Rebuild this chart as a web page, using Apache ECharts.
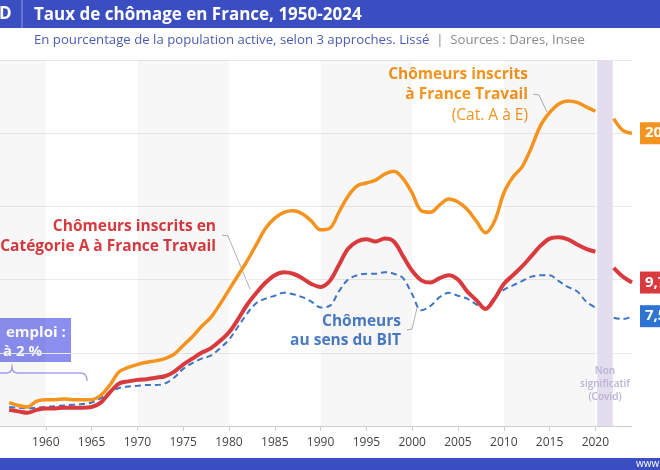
<!DOCTYPE html>
<html>
<head>
<meta charset="utf-8">
<script src="https://cdn.jsdelivr.net/npm/echarts@6.0.0/dist/echarts.min.js"></script>
<style>
  html, body { margin: 0; padding: 0; background: #fff; }
  #chart { width: 660px; height: 470px; }
</style>
</head>
<body>
<div id="chart"></div>
<script>
// années visibles (le début 1950-1955 est hors cadre)
const years = []
for (let y = 1956; y <= 2024; y++) years.push(y)
const tickYears = [1960, 1965, 1970, 1975, 1980, 1985, 1990, 1995, 2000, 2005, 2010, 2015, 2020]

// Chômeurs inscrits à France Travail, cat. A à E (%)
const catAE = [
  1.6, 1.4, 1.3, 1.7, 1.8, 1.8, 1.85, 1.8, 1.8, 1.8,
  2.1, 2.8, 3.7, 4.0, 4.2, 4.35, 4.45, 4.6, 4.9, 5.5,
  6.1, 6.8, 7.4, 8.3, 9.3, 10.3, 11.3, 12.4, 13.5, 14.2,
  14.6, 14.7, 14.5, 14.0, 13.4, 13.5, 14.6, 15.7, 16.4, 16.6,
  16.8, 17.2, 17.4, 16.9, 15.9, 14.7, 14.6, 15.1, 15.5, 15.3,
  14.8, 14.0, 13.2, 14.0, 15.9, 17.0, 17.7, 19.0, 20.5, 21.4,
  22.0, 22.2, 22.1, 21.8, 21.5, null, 21.0, 20.2, 20.0
]
// Chômeurs inscrits en catégorie A (%)
const catA = [
  1.1, 1.0, 0.9, 1.1, 1.2, 1.2, 1.25, 1.25, 1.25, 1.3,
  1.6, 2.3, 2.9, 3.05, 3.15, 3.2, 3.3, 3.4, 3.7, 4.2,
  4.6, 5.0, 5.3, 5.8, 6.4, 7.3, 8.3, 9.1, 9.8, 10.3,
  10.5, 10.4, 10.1, 9.7, 9.5, 9.9, 11.0, 12.1, 12.6, 12.75,
  12.6, 12.8, 12.6, 11.6, 10.6, 9.95, 9.8, 10.1, 10.3, 10.0,
  9.2, 8.6, 8.0, 8.7, 9.7, 10.3, 10.9, 11.6, 12.3, 12.8,
  12.9, 12.75, 12.4, 12.1, 11.9, null, 10.8, 10.2, 9.8
]
// Chômeurs au sens du BIT (%)
const bit = [
  1.3, 1.25, 1.2, 1.25, 1.3, 1.35, 1.4, 1.45, 1.5, 1.6,
  1.9, 2.3, 2.6, 2.7, 2.75, 2.8, 2.8, 2.9, 3.3, 3.9,
  4.3, 4.6, 4.8, 5.3, 5.9, 6.8, 7.7, 8.4, 8.7, 8.9,
  9.1, 9.0, 8.8, 8.5, 8.1, 8.2, 9.2, 10.0, 10.3, 10.4,
  10.4, 10.5, 10.4, 10.1, 9.0, 7.9, 8.2, 8.8, 9.1, 8.9,
  8.7, 8.3, 8.0, 8.8, 9.3, 9.6, 9.9, 10.2, 10.3, 10.3,
  9.9, 9.5, 9.2, 8.5, 8.1, null, 7.4, 7.3, 7.5
]
const endLabels = ['20,0', '9,7', '7,5']

const decadeBands = [[1950, 1960], [1970, 1980], [1990, 2000], [2010, 2020]]
const covidBand = [2020.2, 2021.9]

const ORANGE = '#f5931f'
const RED = '#d83a3e'
const BLUE = '#3d74c5'
const HEAD = '#3b4ec1'
const FONT = '"Open Sans", sans-serif'

const pairs = arr => arr.map((v, i) => [years[i], v])

const bandAreas = decadeBands.map(b => [
  { xAxis: b[0], itemStyle: { color: 'rgba(0,0,20,0.03)' } },
  { xAxis: b[1] }
])
bandAreas.push([
  {
    xAxis: covidBand[0],
    itemStyle: { color: '#e3ddee' },
    label: {
      show: true,
      position: 'insideBottom',
      distance: 22,
      formatter: 'Non\nsignificatif\n(Covid)',
      color: '#bab1d5',
      fontSize: 10,
      fontWeight: 600,
      lineHeight: 13
    }
  },
  { xAxis: covidBand[1] }
])

function endLabel (text, color) {
  return {
    show: true,
    formatter: text,
    color: '#fff',
    backgroundColor: color,
    fontWeight: 'bold',
    fontSize: 15,
    padding: [4, 5, 3, 5],
    distance: 8
  }
}

function txt (x, y, text, color, opts) {
  return {
    type: 'text',
    x: x,
    y: y,
    silent: true,
    style: Object.assign({
      text: text,
      fill: color,
      font: 'bold 15.5px ' + FONT,
      textAlign: 'right',
      textVerticalAlign: 'middle'
    }, opts || {})
  }
}

function leader (points, color) {
  return {
    type: 'polyline',
    silent: true,
    shape: { points: points },
    style: { stroke: color || '#9a9a9a', lineWidth: 0.8, fill: null }
  }
}

const option = {
  animation: false,
  textStyle: { fontFamily: FONT },
  grid: { left: -16, right: 28, top: 60, bottom: 44 },
  xAxis: {
    type: 'value',
    min: 1955,
    max: 2024,
    axisLine: { lineStyle: { color: '#cfcfcf' } },
    axisTick: { customValues: tickYears, length: 5, lineStyle: { color: '#cfcfcf' } },
    axisLabel: { customValues: tickYears, color: '#444', fontSize: 12, margin: 11, formatter: v => String(v) },
    splitLine: { show: false }
  },
  yAxis: {
    type: 'value',
    min: 0,
    max: 25,
    interval: 5,
    axisLabel: { show: false },
    axisLine: { show: false },
    axisTick: { show: false },
    splitLine: { lineStyle: { color: '#ebebeb' } }
  },
  series: [
    {
      name: 'BIT',
      type: 'line',
      data: pairs(bit),
      smooth: 0.35,
      symbol: 'none',
      lineStyle: { color: BLUE, width: 2, type: [6, 4] },
      endLabel: endLabel(endLabels[2], '#2f74d0'),
      markArea: { silent: true, data: bandAreas },
      z: 3
    },
    {
      name: 'Cat A',
      type: 'line',
      data: pairs(catA),
      smooth: 0.35,
      symbol: 'none',
      lineStyle: { color: RED, width: 4 },
      endLabel: endLabel(endLabels[1], RED),
      z: 4
    },
    {
      name: 'Cat A a E',
      type: 'line',
      data: pairs(catAE),
      smooth: 0.35,
      symbol: 'none',
      lineStyle: { color: ORANGE, width: 3.5 },
      endLabel: endLabel(endLabels[0], ORANGE),
      z: 5
    }
  ],
  graphic: [
    // bandeau du haut
    { type: 'rect', silent: true, shape: { x: 0, y: 0, width: 660, height: 28 }, style: { fill: HEAD } },
    { type: 'text', x: -1, y: 14, silent: true, style: { text: 'D', fill: '#fff', font: 'bold 17px ' + FONT, textVerticalAlign: 'middle' } },
    { type: 'line', silent: true, shape: { x1: 22, y1: 0, x2: 22, y2: 28 }, style: { stroke: 'rgba(255,255,255,0.45)', lineWidth: 1 } },
    { type: 'text', x: 34, y: 15, silent: true, style: { text: 'Taux de chômage en France, 1950-2024', fill: '#fff', font: 'bold 17px ' + FONT, textVerticalAlign: 'middle' } },
    {
      type: 'text',
      x: 34,
      y: 40,
      silent: true,
      style: {
        text: '{a|En pourcentage de la population active, selon 3 approches. Lissé}{b|  |  Sources : Dares, Insee}',
        textVerticalAlign: 'middle',
        rich: {
          a: { fill: '#4b5cb3', font: '13.2px ' + FONT },
          b: { fill: '#8a8a8a', font: '13.2px ' + FONT }
        }
      }
    },
    // bandeau du bas
    { type: 'rect', silent: true, shape: { x: 0, y: 458, width: 660, height: 12 }, style: { fill: HEAD } },
    { type: 'text', x: 636, y: 464, silent: true, style: { text: 'www.inegalites.fr', fill: '#fff', font: '10px ' + FONT, textVerticalAlign: 'middle' } },

    // annotations
    txt(528, 75, 'Chômeurs inscrits', ORANGE),
    txt(528, 95, 'à France Travail', ORANGE),
    txt(528, 116, '(Cat. A à E)', ORANGE, { font: '15.5px ' + FONT }),
    leader([[533, 94], [539, 95], [547, 112]]),

    txt(216, 227, 'Chômeurs inscrits en', RED),
    txt(216, 247, 'Catégorie A à France Travail', RED),
    leader([[222, 235], [228, 236], [250, 289]]),

    txt(401, 322, 'Chômeurs', '#4a7cc3'),
    txt(401, 341, 'au sens du BIT', '#4a7cc3'),
    leader([[407, 330], [412, 329], [417, 308]]),

    // plein emploi
    { type: 'rect', silent: true, shape: { x: -10, y: 318, width: 81, height: 44 }, style: { fill: '#8c8ff0' } },
    txt(6, 333, 'emploi :', '#fff', { textAlign: 'left', font: 'bold 15px ' + FONT }),
    txt(3, 352, 'à 2 %', '#fff', { textAlign: 'left', font: 'bold 15px ' + FONT }),
    // accolade
    {
      type: 'polyline',
      silent: true,
      shape: { points: [[-40, 373], [7, 373], [10, 372], [11.5, 370], [12, 367], [12.5, 370], [14, 372], [17, 373], [81, 373], [84.5, 374], [86.5, 377], [87, 381]] },
      style: { stroke: '#a7a5ee', lineWidth: 1.5, fill: null }
    }
  ]
}

const chart = echarts.init(document.getElementById('chart'))
chart.setOption(option)
</script>
</body>
</html>
